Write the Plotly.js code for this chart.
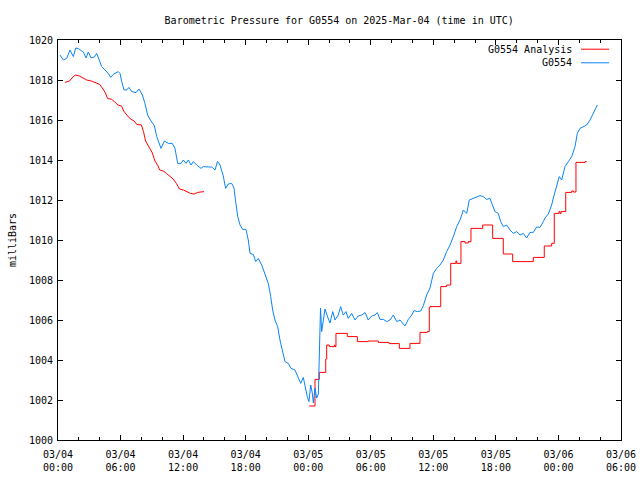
<!DOCTYPE html>
<html>
<head>
<meta charset="utf-8">
<script src="https://cdn.plot.ly/plotly-3.0.1.min.js"></script>
<style>html,body{margin:0;padding:0;background:#fff;}#chart{width:640px;height:480px;}</style>
</head>
<body>
<div id="chart"></div>
<script>
// Hours since 2025-03-04 00:00 UTC
var startDate = Date.UTC(2025, 2, 4, 0, 0, 0);

// G0554 observed pressure (mb)
var obsHours = [0.19,0.51,0.83,1.15,1.47,1.70,1.95,2.21,2.43,2.69,2.91,3.17,3.48,3.71,3.87,4.19,4.51,4.82,5.05,5.30,5.78,5.95,6.11,6.33,6.59,6.81,7.07,7.48,7.77,8.09,8.34,8.60,8.92,9.24,9.47,9.88,10.20,10.58,10.96,11.22,11.48,11.80,12.02,12.28,12.50,12.76,12.98,13.30,13.72,13.94,14.42,14.74,15.06,15.30,15.54,15.85,16.08,16.33,16.66,16.88,17.04,17.24,17.46,17.72,18.03,18.25,18.42,18.73,18.96,19.21,19.54,19.85,20.17,20.40,20.59,20.81,21.07,21.29,21.55,21.77,22.09,22.35,22.73,22.99,23.28,23.53,23.69,23.91,24.07,24.24,24.39,24.49,24.65,24.81,24.97,25.06,25.18,25.29,25.45,25.61,25.83,26.09,26.35,26.57,26.88,27.11,27.36,27.62,27.84,28.17,28.49,28.80,29.13,29.45,29.76,30.09,30.40,30.63,30.88,31.20,31.53,31.84,32.16,32.49,32.80,33.28,33.60,33.93,34.15,34.46,34.79,35.04,35.36,35.68,36.00,36.32,36.64,36.96,37.28,37.60,37.92,38.24,38.56,38.88,39.20,39.45,39.83,40.16,40.48,40.79,41.12,41.43,41.69,41.91,42.23,42.46,42.71,43.04,43.35,43.67,44.00,44.31,44.63,44.95,45.27,45.59,45.91,46.23,46.55,46.71,47.03,47.35,47.51,47.84,48.08,48.31,48.63,48.95,49.27,49.59,49.81,50.07,50.39,50.71,51.03,51.35,51.73];
var obsValues = [1019.25,1019.0,1019.08,1019.5,1019.17,1019.6,1019.57,1019.5,1019.4,1019.1,1019.4,1019.1,1019.15,1019.33,1019.1,1018.67,1018.5,1018.33,1018.13,1018.28,1018.42,1018.33,1017.92,1017.5,1017.5,1017.63,1017.42,1017.37,1017.55,1017.25,1016.83,1016.25,1015.95,1015.72,1015.17,1014.58,1014.95,1014.83,1014.83,1014.58,1013.83,1013.83,1014.0,1013.83,1014.0,1013.75,1013.92,1013.75,1013.58,1013.67,1013.65,1013.65,1013.5,1013.93,1013.75,1013.2,1012.58,1012.8,1012.83,1012.6,1011.92,1011.17,1010.75,1010.53,1010.53,1010.0,1009.33,1009.28,1008.92,1009.08,1008.75,1008.25,1007.83,1007.17,1006.5,1006.0,1005.67,1005.0,1004.33,1003.92,1003.83,1003.58,1003.5,1003.17,1002.83,1003.13,1002.67,1002.17,1001.92,1002.75,1002.35,1001.85,1002.6,1002.1,1002.3,1004.8,1006.6,1005.42,1006.0,1006.55,1006.2,1005.85,1006.42,1006.0,1006.25,1006.67,1006.25,1006.42,1006.08,1006.33,1006.0,1006.2,1006.25,1006.37,1006.0,1006.2,1006.25,1006.37,1006.03,1006.03,1005.92,1006.0,1006.25,1005.92,1006.0,1005.7,1006.03,1006.25,1006.47,1006.42,1006.45,1006.72,1007.25,1007.6,1008.33,1008.58,1008.75,1009.0,1009.42,1009.75,1010.17,1010.67,1011.0,1011.5,1011.33,1012.0,1012.08,1012.17,1012.22,1012.17,1012.03,1012.08,1011.75,1011.42,1011.33,1010.92,1010.67,1010.75,1010.5,1010.33,1010.42,1010.25,1010.33,1010.1,1010.38,1010.38,1010.65,1010.63,1010.92,1011.1,1011.3,1011.75,1012.1,1012.7,1013.17,1013.0,1013.67,1013.92,1014.17,1014.67,1015.33,1015.58,1015.67,1015.75,1016.0,1016.33,1016.75];

// G0554 Analysis, first run (mb)
var anaHours1 = [0.67,1.10,1.35,1.65,2.05,2.35,2.75,3.20,3.60,4.00,4.25,4.55,4.75,5.15,5.45,5.75,6.10,6.30,6.60,6.95,7.30,7.55,8.00,8.20,8.40,8.75,9.05,9.30,9.60,9.75,10.10,10.40,10.75,11.05,11.35,11.65,12.05,12.35,12.70,13.05,13.40,14.00];
var anaValues1 = [1017.88,1017.95,1018.1,1018.25,1018.2,1018.1,1018.0,1017.95,1017.85,1017.78,1017.6,1017.35,1017.08,1017.03,1016.9,1016.75,1016.7,1016.45,1016.25,1016.05,1015.95,1015.78,1015.75,1015.42,1014.95,1014.6,1014.35,1013.95,1013.7,1013.5,1013.45,1013.33,1013.17,1013.05,1012.83,1012.55,1012.5,1012.42,1012.33,1012.3,1012.38,1012.42];

// G0554 Analysis, second run (mb, stepwise)
var anaHours2 = [24.10,24.65,25.06,25.68,25.77,26.02,26.50,26.57,26.66,27.75,28.71,29.76,30.72,31.75,32.74,33.76,34.72,35.42,35.61,35.68,36.71,37.28,37.67,38.17,38.24,38.65,39.04,39.35,39.61,40.73,41.69,42.71,43.61,45.59,46.64,47.35,47.60,48.05,48.15,48.25,48.70,49.27,49.43,49.68,50.55,50.71];
var anaValues2 = [1001.7,1003.03,1003.38,1004.05,1004.75,1004.67,1004.75,1004.67,1005.33,1005.17,1004.92,1004.95,1004.88,1004.82,1004.58,1004.83,1005.38,1005.42,1006.62,1006.67,1007.67,1007.75,1008.83,1008.95,1008.83,1009.92,1009.85,1009.92,1010.58,1010.75,1010.08,1009.3,1008.92,1009.13,1009.7,1009.83,1011.33,1011.42,1011.33,1011.42,1012.38,1012.45,1012.4,1013.88,1013.92,1013.92];

var seriesNames = ['G0554 Analysis', 'G0554'];
var titleText = 'Barometric Pressure for G0554 on 2025-Mar-04 (time in UTC)';
var yTitle = 'milliBars';

function toDate(h) {
  return new Date(startDate + Math.round(h * 3600000)).toISOString().slice(0, 19).replace('T', ' ');
}

var red = '#ff0000';
var blue = '#0a84f5';
var font = {family: 'DejaVu Sans Mono, monospace', size: 10, color: '#000'};

var traces = [
  {x: anaHours1.map(toDate), y: anaValues1, type: 'scatter', mode: 'lines', name: seriesNames[0],
   line: {color: red, width: 1}, showlegend: false},
  {x: anaHours2.map(toDate), y: anaValues2, type: 'scatter', mode: 'lines', name: seriesNames[0],
   line: {color: red, width: 1, shape: 'hv'}, showlegend: false},
  {x: obsHours.map(toDate), y: obsValues, type: 'scatter', mode: 'lines', name: seriesNames[1],
   line: {color: blue, width: 1}, showlegend: false}
];

var layout = {
  width: 640, height: 480,
  margin: {l: 58, r: 19, t: 40, b: 40, pad: 0},
  paper_bgcolor: '#fff', plot_bgcolor: '#fff',
  font: font,
  showlegend: false,
  title: {text: titleText, font: font, x: 0.53, xanchor: 'center', y: 0.958, yanchor: 'middle'},
  xaxis: {
    type: 'date',
    range: ['2025-03-04 00:00:00', '2025-03-06 06:00:00'],
    tick0: '2025-03-04 00:00:00', dtick: 21600000,
    tickformat: '%m/%d<br>%H:%M',
    ticks: 'inside', ticklen: 5, tickcolor: '#000', tickwidth: 1,
    minor: {dtick: 7200000, ticks: 'inside', ticklen: 3, tickcolor: '#000'},
    showline: true, linecolor: '#000', linewidth: 1, mirror: 'ticks',
    showgrid: false, zeroline: false,
    tickfont: font, ticklabelstandoff: 5
  },
  yaxis: {
    range: [1000, 1020], dtick: 2, tick0: 1000,
    ticks: 'inside', ticklen: 5, tickcolor: '#000', tickwidth: 1,
    showline: true, linecolor: '#000', linewidth: 1, mirror: 'ticks',
    showgrid: false, zeroline: false,
    tickfont: font, ticklabelstandoff: 2,
    title: {text: yTitle, font: font, standoff: 10}
  },
  shapes: [
    {type: 'line', xref: 'paper', yref: 'paper', x0: 0.929, x1: 0.979, y0: 0.977, y1: 0.977, line: {color: red, width: 1}},
    {type: 'line', xref: 'paper', yref: 'paper', x0: 0.929, x1: 0.979, y0: 0.943, y1: 0.943, line: {color: blue, width: 1}}
  ],
  annotations: [
    {xref: 'paper', yref: 'paper', x: 0.916, y: 0.977, xanchor: 'right', yanchor: 'middle', text: seriesNames[0], showarrow: false, font: font},
    {xref: 'paper', yref: 'paper', x: 0.916, y: 0.943, xanchor: 'right', yanchor: 'middle', text: seriesNames[1], showarrow: false, font: font}
  ]
};

Plotly.newPlot('chart', traces, layout, {displayModeBar: false, staticPlot: true});
</script>
</body>
</html>
